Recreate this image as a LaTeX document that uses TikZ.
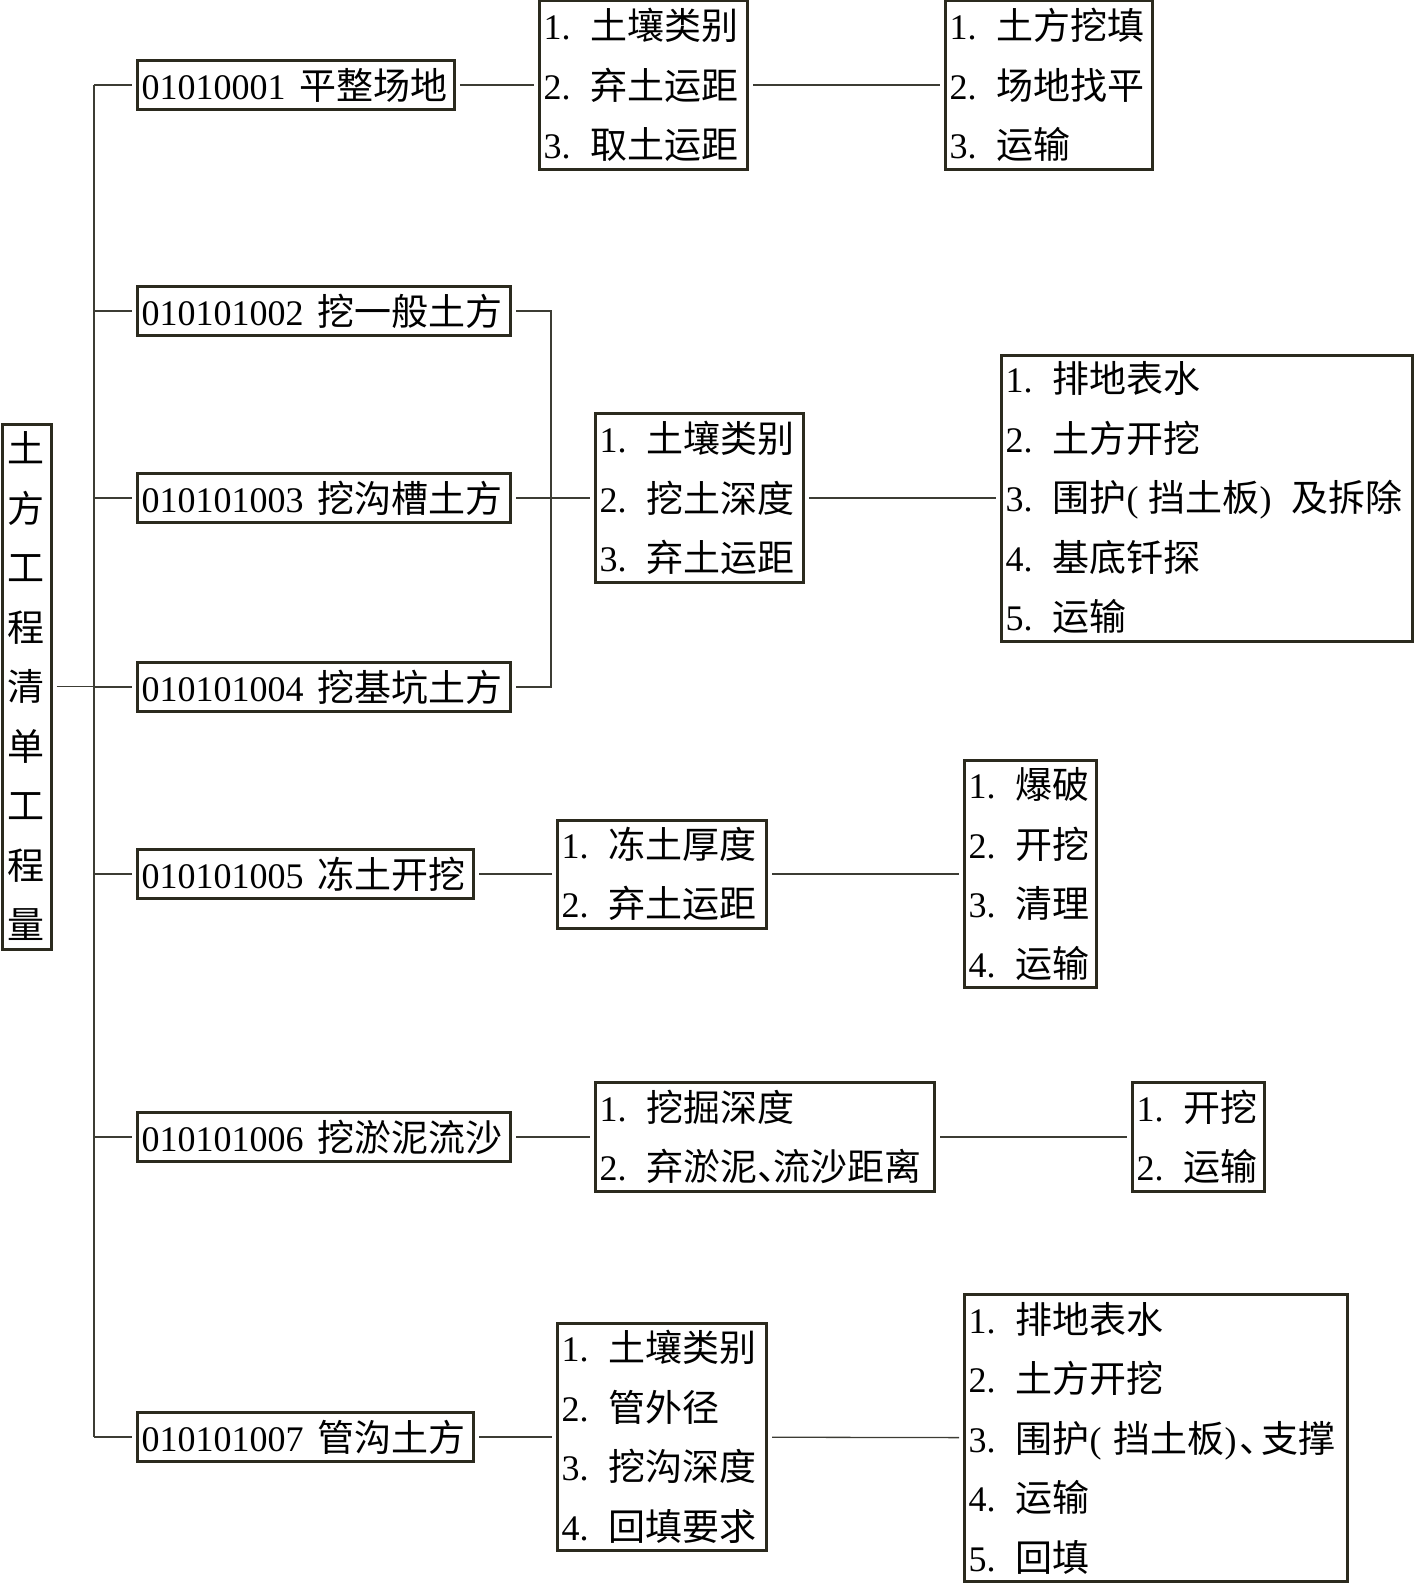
\documentclass[tikz,border=0pt]{standalone}
\usepackage{fontspec}
\setmainfont{Liberation Serif}
\newfontfamily\cjk{Noto Sans CJK SC}
\definecolor{boxc}{HTML}{2B2A1E}
\definecolor{linec}{HTML}{3C3C34}
\newcommand\zh[1]{{\cjk\fontsize{37}{59.5}\selectfont #1}}
\newcommand\itm[2]{#1.\hspace{20pt}\zh{#2}}
\newcommand\dun[1]{\makebox[#1][l]{\zh{、}}}
\begin{document}
\begin{tikzpicture}[x=1pt,y=-1pt,
  box/.style={draw=boxc, line width=3pt, inner xsep=4pt, inner ysep=0pt, anchor=west,
    align=left, fill=white, font=\fontsize{36}{59.5}\selectfont},
  conn/.style={draw=linec, line width=1.3pt},
  gap/.style={shorten <=4pt, shorten >=4pt}]
\useasboundingbox (0,0) rectangle (1414,1584);

% root
\node[box, anchor=center, align=center, text width=37pt, minimum width=49pt, minimum height=525pt,
  font=\cjk\fontsize{37}{59.5}\selectfont] (root) at (26.5,686.5)
  {土\\方\\工\\程\\清\\单\\工\\程\\量};

% level 1
\node[box, text width=309pt, minimum height=49pt] (l1) at (136,85) {01010001\hspace{14pt}\zh{平整场地}};
\node[box, text width=365pt, minimum height=49pt] (l2) at (136,311) {010101002\hspace{14pt}\zh{挖一般土方}};
\node[box, text width=365pt, minimum height=49pt] (l3) at (136,498) {010101003\hspace{14pt}\zh{挖沟槽土方}};
\node[box, text width=365pt, minimum height=49pt] (l4) at (136,687) {010101004\hspace{14pt}\zh{挖基坑土方}};
\node[box, text width=328pt, minimum height=49pt] (l5) at (136,874) {010101005\hspace{14pt}\zh{冻土开挖}};
\node[box, text width=365pt, minimum height=49pt] (l6) at (136,1137) {010101006\hspace{14pt}\zh{挖淤泥流沙}};
\node[box, text width=328pt, minimum height=49pt] (l7) at (136,1437) {010101007\hspace{14pt}\zh{管沟土方}};

% level 2
\node[box, text width=200pt, minimum height=169pt] (a2) at (538,85)
  {\itm{1}{土壤类别}\\\itm{2}{弃土运距}\\\itm{3}{取土运距}};
\node[box, text width=200pt, minimum height=169pt] (b2) at (594,498)
  {\itm{1}{土壤类别}\\\itm{2}{挖土深度}\\\itm{3}{弃土运距}};
\node[box, text width=201pt, minimum height=108pt] (c2) at (556,874)
  {\itm{1}{冻土厚度}\\\itm{2}{弃土运距}};
\node[box, text width=331pt, minimum height=109pt] (d2) at (594,1137)
  {\itm{1}{挖掘深度}\\2.\hspace{20pt}\zh{弃淤泥}\dun{16pt}\zh{流沙距离}};
\node[box, text width=201pt, minimum height=227pt] (e2) at (556,1437)
  {\itm{1}{土壤类别}\\\itm{2}{管外径}\\\itm{3}{挖沟深度}\\\itm{4}{回填要求}};

% level 3
\node[box, text width=199pt, minimum height=169pt] (a3) at (944,85)
  {\itm{1}{土方挖填}\\\itm{2}{场地找平}\\\itm{3}{运输}};
\node[box, text width=403pt, minimum height=286pt] (b3) at (1000,498)
  {\itm{1}{排地表水}\\\itm{2}{土方开挖}\\
   3.\hspace{20pt}\zh{围护}(\hspace{10pt}\zh{挡土板})\hspace{20pt}\zh{及拆除}\\
   \itm{4}{基底钎探}\\\itm{5}{运输}};
\node[box, text width=124pt, minimum height=227pt] (c3) at (963,874)
  {\itm{1}{爆破}\\\itm{2}{开挖}\\\itm{3}{清理}\\\itm{4}{运输}};
\node[box, text width=124pt, minimum height=109pt] (d3) at (1131,1137)
  {\itm{1}{开挖}\\\itm{2}{运输}};
\node[box, text width=375pt, minimum height=287pt] (e3) at (963,1438)
  {\itm{1}{排地表水}\\\itm{2}{土方开挖}\\
   3.\hspace{20pt}\zh{围护}(\hspace{12pt}\zh{挡土板})\hspace{3pt}\dun{22pt}\zh{支撑}\\
   \itm{4}{运输}\\\itm{5}{回填}};

% trunk
\coordinate (tt) at (94,85);
\coordinate (tb) at (94,1437);
\coordinate (br) at (551,0);
\draw[conn] (tt) -- (tb);
\draw[conn, shorten <=4pt] (root.east) -- (root.east -| tt);
\foreach \i in {1,...,7} \draw[conn, shorten >=4pt] (l\i.west -| tt) -- (l\i.west);

% bracket for l2-l4
\draw[conn, gap] (l2.east) -- (l2.east -| br) -- (l4.east -| br) -- (l4.east);
\draw[conn, gap] (l3) -- (b2);

% other connectors
\draw[conn, gap] (l1) -- (a2);
\draw[conn, gap] (a2) -- (a3);
\draw[conn, gap] (b2) -- (b3);
\draw[conn, gap] (l5) -- (c2);
\draw[conn, gap] (c2) -- (c3);
\draw[conn, gap] (l6) -- (d2);
\draw[conn, gap] (d2) -- (d3);
\draw[conn, gap] (l7) -- (e2);
\draw[conn, gap] (e2) -- (e3);
\end{tikzpicture}
\end{document}
